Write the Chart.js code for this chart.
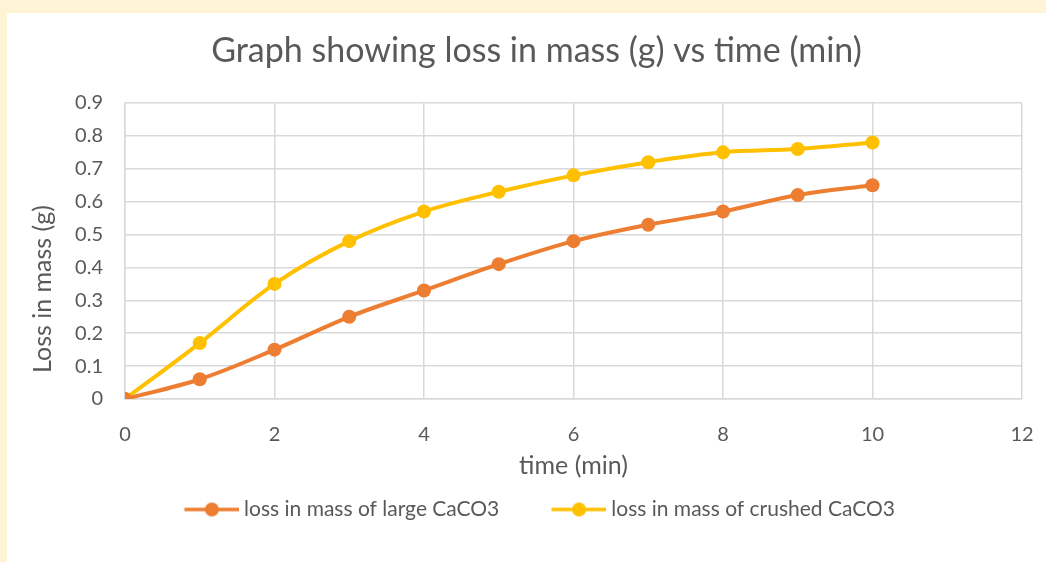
<!DOCTYPE html>
<html>
<head>
<meta charset="utf-8">
<script src="https://cdn.jsdelivr.net/npm/chart.js@4.4.1/dist/chart.umd.min.js"></script>
<style>
  html, body { margin: 0; padding: 0; background: #fff3d6; }
  #panel { position: absolute; left: 7px; top: 13px; width: 1039px; height: 549px; background: #ffffff; }
</style>
</head>
<body>
<div id="panel"><canvas id="lossChart"></canvas></div>
<script>
const timeMin = [0, 1, 2, 3, 4, 5, 6, 7, 8, 9, 10];
const largeLoss = [0, 0.06, 0.15, 0.25, 0.33, 0.41, 0.48, 0.53, 0.57, 0.62, 0.65];
const crushedLoss = [0, 0.17, 0.35, 0.48, 0.57, 0.63, 0.68, 0.72, 0.75, 0.76, 0.78];
const seriesNames = ["loss in mass of large CaCO3", "loss in mass of crushed CaCO3"];
const seriesColors = ["#ed7d31", "#ffc000"];

const FONT = 'Lato, "Open Sans", sans-serif';
const TEXT = "#595959";
const GRID = "#d9d9d9";

// legend swatch: line with a dot, with a little blank space on its left
// so the two legend entries sit further apart
const ICON_GAP = 11.5;
const ICON_LINE = 55;
function legendIcon(color) {
  const c = document.createElement("canvas");
  c.width = ICON_GAP + ICON_LINE;
  c.height = 16;
  const g = c.getContext("2d");
  g.strokeStyle = color;
  g.lineWidth = 3.5;
  g.beginPath();
  g.moveTo(ICON_GAP, 8);
  g.lineTo(ICON_GAP + ICON_LINE, 8);
  g.stroke();
  g.fillStyle = color;
  g.beginPath();
  g.arc(ICON_GAP + ICON_LINE / 2, 8, 7, 0, Math.PI * 2);
  g.fill();
  return c;
}
const icons = seriesColors.map(legendIcon);

// y axis title sits a little below the middle of the plot
const yTitlePlugin = {
  id: "yTitle",
  afterDraw(chart) {
    const ctx = chart.ctx;
    ctx.save();
    ctx.translate(36, 276);
    ctx.rotate(-Math.PI / 2);
    ctx.font = `25px ${FONT}`;
    ctx.fillStyle = TEXT;
    ctx.textAlign = "center";
    ctx.textBaseline = "middle";
    ctx.fillText("Loss in mass (g)", 0, 0);
    ctx.restore();
  }
};

const toPoints = (ys) => ys.map((y, i) => ({ x: timeMin[i], y }));

new Chart(document.getElementById("lossChart"), {
  type: "line",
  data: {
    datasets: [largeLoss, crushedLoss].map((ys, i) => ({
      label: seriesNames[i],
      data: toPoints(ys),
      borderColor: seriesColors[i],
      backgroundColor: seriesColors[i],
      borderWidth: 4,
      pointRadius: 7,
      pointHoverRadius: 7,
      pointBorderWidth: 0,
      tension: 0.35,
      fill: false
    }))
  },
  options: {
    responsive: true,
    maintainAspectRatio: false,
    animation: false,
    layout: { padding: { left: 44, right: 24, top: 0, bottom: 32 } },
    plugins: {
      title: {
        display: true,
        text: "Graph showing loss in mass (g) vs time (min)",
        color: TEXT,
        font: { family: FONT, size: 34, weight: "normal" },
        padding: { top: 17.6, bottom: 31.6 }
      },
      legend: {
        position: "bottom",
        labels: {
          color: TEXT,
          font: { family: FONT, size: 21 },
          usePointStyle: true,
          pointStyleWidth: 44 + ICON_GAP,
          padding: 46,
          generateLabels(chart) {
            const items = Chart.defaults.plugins.legend.labels.generateLabels(chart);
            items.forEach((item, i) => { item.pointStyle = icons[i]; });
            return items;
          }
        }
      },
      tooltip: { enabled: false }
    },
    scales: {
      x: {
        type: "linear",
        min: 0,
        max: 12,
        ticks: { stepSize: 2, color: TEXT, font: { family: FONT, size: 20 }, padding: 24 },
        grid: { color: GRID, lineWidth: 1.5, drawTicks: false },
        border: { color: GRID, width: 1.5 },
        title: {
          display: true,
          text: "time (min)",
          color: TEXT,
          font: { family: FONT, size: 25 },
          padding: { top: 0, bottom: 0 }
        },
        afterFit(scale) {
          scale.height = scale.chart.height - 32 - scale.chart.legend.height - 386;
          scale.paddingLeft = 0;
          scale.paddingRight = 0;
          // axis title goes 67px below the plot, under the tick labels
          const lh = 25 * 1.2;
          scale.options.title.padding = { top: 0, bottom: scale.height - 67 - lh / 2 };
        }
      },
      y: {
        min: 0,
        max: 0.9,
        ticks: {
          stepSize: 0.1,
          color: TEXT,
          font: { family: FONT, size: 20 },
          padding: 22,
          callback: (v) => (v === 0 ? "0" : v.toFixed(1))
        },
        grid: { color: GRID, lineWidth: 1.5, drawTicks: false },
        border: { color: GRID, width: 1.5 },
        afterFit(scale) {
          scale.width = 118 - 44;
        }
      }
    }
  },
  plugins: [yTitlePlugin]
});
</script>
</body>
</html>
